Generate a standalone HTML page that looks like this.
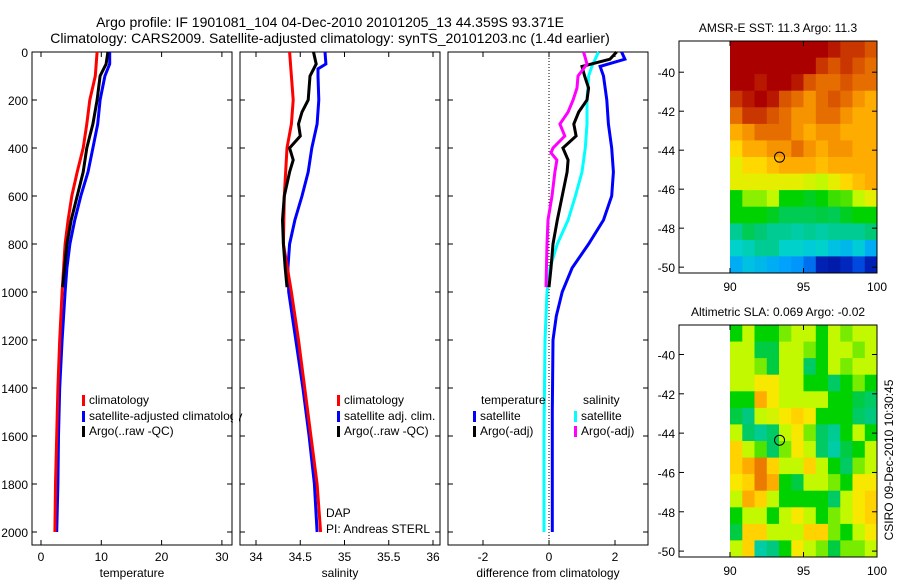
<!DOCTYPE html>
<html><head><meta charset="utf-8"><style>
body{margin:0;background:#fff}
svg{display:block;font-family:"Liberation Sans",sans-serif}
</style></head><body>
<svg id="fig" width="900" height="580" xmlns="http://www.w3.org/2000/svg">
<text x="330" y="27" font-size="14" text-anchor="middle">Argo profile: IF 1901081_104 04-Dec-2010 20101205_13 44.359S 93.371E</text>
<text x="330" y="43" font-size="14" text-anchor="middle">Climatology: CARS2009. Satellite-adjusted climatology: synTS_20101203.nc (1.4d earlier)</text>
<g id="g"></g>
</svg>
<script>
// ---- data ----
const depthTicks=[0,200,400,600,800,1000,1200,1400,1600,1800,2000];
const tTicks=[0,10,20,30], sTicks=[34,34.5,35,35.5,36], dTicks=[-2,0,2];
const latTicks=[-40,-42,-44,-46,-48,-50], lonTicks=[90,95,100];
const tClimD=[0,100,200,300,400,500,600,700,800,1000,1200,1400,1600,1800,2000];
const tClim=[9.3,9.0,8.1,7.6,7.0,6.0,5.1,4.5,4.0,3.5,3.1,2.8,2.6,2.4,2.3];
const tArgoD=[0,50,100,200,300,350,400,500,600,700,800,900,980];
const tArgo=[11.1,10.8,9.8,9.3,8.6,8.1,7.6,7.0,6.0,5.0,4.3,3.9,3.6];
const tSatD=[0,50,100,200,300,400,500,600,700,800,900,1000,1200,1400,1600,1800,2000];
const tSat=[11.4,11.4,10.6,9.8,9.4,8.6,7.8,6.6,5.6,4.8,4.3,4.0,3.5,3.1,2.9,2.8,2.6];
const sClimD=[0,100,200,300,400,600,800,1000,1200,1400,1600,1800,2000];
const sClim=[34.38,34.4,34.42,34.4,34.35,34.32,34.31,34.4,34.48,34.55,34.62,34.69,34.73];
const sArgoD=[0,50,100,200,250,300,350,400,450,500,600,700,800,900,980];
const sArgo=[34.65,34.68,34.61,34.59,34.52,34.48,34.5,34.38,34.42,34.38,34.32,34.3,34.31,34.33,34.35];
const sSatD=[0,50,70,100,200,300,400,500,600,700,800,900,1000,1200,1400,1600,1800,2000];
const sSat=[34.78,34.79,34.7,34.7,34.71,34.69,34.63,34.59,34.52,34.44,34.38,34.36,34.37,34.45,34.53,34.6,34.66,34.69];
const dTSatD=[0,30,60,100,200,300,400,500,600,700,800,900,1000,1100,1200,1500,2000];
const dTSat=[2.2,2.3,1.55,1.65,1.75,1.8,1.9,1.95,1.9,1.65,1.2,0.7,0.4,0.22,0.12,0.1,0.1];
const dSSatD=[0,60,100,200,300,400,500,600,700,800,900,1000,1200,1600,2000];
const dSSat=[1.5,1.3,1.2,1.15,1.15,1.1,1.0,0.8,0.58,0.25,0.03,-0.06,-0.12,-0.15,-0.15];
const dTArgoD=[0,30,60,100,150,200,250,300,350,400,450,500,600,700,800,900,980];
const dTArgo=[2.05,1.85,1.0,1.08,1.2,1.15,0.9,0.75,0.82,0.42,0.58,0.55,0.4,0.25,0.12,0.06,0.0];
const dSArgoD=[0,50,100,150,200,250,300,350,400,420,450,500,600,700,800,980];
const dSArgo=[1.05,1.15,0.88,0.85,0.73,0.58,0.33,0.48,0.12,0.06,0.24,0.18,0.09,-0.03,-0.06,-0.09];
const sst=[
[15.4,15.4,15.4,15.4,15.4,15.4,15.4,15.4,15,14.5,14.5,14],
[15.4,15.4,15.4,15.4,15.4,15.4,15.4,14.5,14,14.5,14,13.6],
[15.4,15.4,15,15.4,15.4,15,14,13.6,13.6,14,13.6,13.6],
[14.5,15,15.4,15,14,13.6,13,13.6,14,13.6,13,12.6],
[13.6,14.5,14.5,14,13.6,13,13,13.6,13.6,13,12.6,12.6],
[12.6,13,13.6,13.6,13.6,13,12.6,13,13,12.6,12.6,12.6],
[11.9,12.6,12.6,13,13,13.6,13,12.6,13,13,12.6,12.6],
[11.4,11.9,11.9,12.3,12.6,12.6,12.6,12.3,12.6,12.6,12.6,12.6],
[11.4,11.4,11.4,11.4,11.4,11.4,11.2,11,11.4,11.9,12.3,12.6],
[10,10.7,10.7,11,10,10,9.8,10,10.3,10.4,11,11.4],
[10,10,10,9.8,9.5,9.5,9.5,9.6,9.5,9.8,10,10],
[9,9.5,9.3,9,9,8.8,9,8.8,9,9,9,9.3],
[8.4,8.6,9,9,8.4,8.4,8.2,8.4,8,7.8,8.2,7.6],
[7.6,8,7.8,7.6,7.4,7.2,6.6,5,4.8,5.2,6,5]];
const sla=[
[0,0.05,0,0,0.03,0.05,0.05,0,0.05,0.03,0.05,0.05],
[0.05,0.05,-0.02,-0.02,0.05,0.05,0.03,0,0.05,0.05,0.03,0.05],
[0.05,0.05,0.03,-0.02,0.05,0.05,-0.03,0,0.05,0.03,0.05,0.05],
[0.05,0.05,0.08,0.08,0.05,0.05,0,0,-0.03,0,0.03,0],
[0,0,0.13,0.08,0.05,0.05,0.05,0.05,0,0,-0.02,-0.03],
[-0.02,-0.04,0.05,0.06,0.08,0.1,0.08,0,0,0,-0.03,-0.04],
[0.05,-0.03,-0.05,-0.03,0.05,0.08,0.03,-0.03,-0.05,0,0.05,0],
[0.1,0.05,0.02,-0.03,0.03,0.08,0.05,-0.03,-0.06,-0.02,0,0.05],
[0.1,0.13,0.17,0.1,0.05,0.05,0.1,0.05,0,-0.03,0.03,0.05],
[0.08,0.1,0.17,0.13,0,-0.02,0.05,0.05,0.03,0,0.08,0.08],
[0.05,0.13,0.1,0.05,0,0,0,0,-0.03,0.05,0.08,0.1],
[0,0.05,0.05,0,0.05,0.08,0.05,0,0.03,0.05,0.08,0.1],
[-0.02,0.1,0.1,0.05,0.05,0.05,0.1,0.1,0.03,0,0.05,0.08],
[0.05,0.1,-0.06,-0.04,0,0.08,0.05,0.03,-0.02,0.03,0.03,0.05]];
const argoPos=[93.371,-44.359];

// ---- drawing ----
const NS="http://www.w3.org/2000/svg", G=document.getElementById('g');
function mk(t,a,p){const e=document.createElementNS(NS,t);for(const k in a)e.setAttribute(k,a[k]);(p||G).appendChild(e);return e;}
function txt(x,y,s,a,sz,anchor){const e=mk('text',Object.assign({x:x,y:y,'font-size':sz||12,'text-anchor':anchor||'middle'},a||{}));e.textContent=s;return e;}
const Y=d=>52+d*0.24;
const panels=[
 {x0:32,x1:232,f:v=>41+6.03*v,ticks:tTicks,title:'temperature',name:'temperature-panel'},
 {x0:240,x1:440,f:v=>256+88.5*(v-34),ticks:sTicks,title:'salinity',name:'salinity-panel'},
 {x0:448,x1:648,f:v=>549+33*v,ticks:dTicks,title:'difference from climatology',name:'difference-panel'}];
panels.forEach((p,i)=>{
 const r=mk('rect',{x:p.x0,y:52,width:p.x1-p.x0,height:493,fill:'none',stroke:'#000'});
 
 
 p.ticks.forEach(t=>{const x=p.f(t);
  mk('line',{x1:x,x2:x,y1:545,y2:540,stroke:'#000'});mk('line',{x1:x,x2:x,y1:52,y2:57,stroke:'#000'});
  const l=txt(x,561,String(t),null,12);
  
  });
 const at=txt((p.x0+p.x1)/2,577,p.title,null,12);
 
 
 depthTicks.forEach(d=>{mk('line',{x1:p.x0,x2:p.x0+5,y1:Y(d),y2:Y(d),stroke:'#000'});mk('line',{x1:p.x1,x2:p.x1-5,y1:Y(d),y2:Y(d),stroke:'#000'});
  if(i==0){const l=txt(28,Y(d)+5,String(d),null,12,'end');
   
   }});
});
const zx=panels[2].f(0);
mk('line',{x1:zx,x2:zx,y1:52,y2:545,stroke:'#000','stroke-dasharray':'1,2'});
function line(p,ds,vs,c,name){
 const pts=ds.map((d,i)=>p.f(vs[i]).toFixed(1)+','+Y(d).toFixed(1)).join(' ');
 const e=mk('polyline',{points:pts,fill:'none',stroke:c,'stroke-width':3});
 
 }
line(panels[0],tSatD,tSat,'#00f','temp-satellite-line');
line(panels[0],tClimD,tClim,'#f00','temp-climatology-line');
line(panels[0],tArgoD,tArgo,'#000','temp-argo-line');
line(panels[1],sSatD,sSat,'#00f','sal-satellite-line');
line(panels[1],sClimD,sClim,'#f00','sal-climatology-line');
line(panels[1],sArgoD,sArgo,'#000','sal-argo-line');
line(panels[2],dTSatD,dTSat,'#00f','diff-temp-satellite-line');
line(panels[2],dSSatD,dSSat,'#0ff','diff-sal-satellite-line');
line(panels[2],dTArgoD,dTArgo,'#000','diff-temp-argo-line');
line(panels[2],dSArgoD,dSArgo,'#f0f','diff-sal-argo-line');
function leg(x,y,c,s){mk('rect',{x:x,y:y-9,width:3,height:11,fill:c});
 const t=txt(x+7,y,s,null,12,'start');
 
 }
leg(82,404,'#f00','climatology');leg(82,420,'#00f','satellite-adjusted climatology');leg(82,435,'#000','Argo(..raw -QC)');
leg(337,404,'#f00','climatology');leg(337,420,'#00f','satellite adj. clim.');leg(337,435,'#000','Argo(..raw -QC)');
txt(481,404,'temperature',null,12,'start');txt(583,404,'salinity',null,12,'start');
leg(473,420,'#00f','satellite');leg(473,435,'#000','Argo(-adj)');
leg(574,420,'#0ff','satellite');leg(574,435,'#f0f','Argo(-adj)');
txt(326,517,'DAP',null,12,'start');txt(326,533,'PI: Andreas STERL',null,12,'start');
mk('rect',{x:233,y:405,width:6,height:20,fill:'#fff'});
// colormap
const cmT=[0,0.15,0.28,0.36,0.44,0.5,0.58,0.64,0.72,0.8,0.88,0.95,1];
const cmC=[[0,0,130],[0,60,220],[0,160,255],[0,210,210],[0,200,120],[0,210,0],[190,250,0],[255,230,0],[255,170,0],[230,110,0],[200,50,0],[170,0,0],[150,0,0]];
function cmap(t){t=Math.max(0,Math.min(1,t));let i=0;while(i<cmT.length-2&&t>cmT[i+1])i++;
 const f=(t-cmT[i])/(cmT[i+1]-cmT[i]);const c=cmC[i].map((v,k)=>Math.round(v+(cmC[i+1][k]-v)*f));
 return 'rgb('+c.join(',')+')';}
function map(top,bot,latTop,grid,norm,title,name){
 const fx=lon=>730+14.7*(lon-90);
 const py=lat=>top+(lat-latTop)/(-50.3-latTop)*(bot-top);
 const rows=grid.length, cols=grid[0].length, cw=(fx(100)-fx(90))/cols, ch=(bot-top)/rows;
 grid.forEach((row,r)=>row.forEach((v,c)=>{
  const w=Math.min(cw+0.6,877-(fx(90)+c*cw));
  const e=mk('rect',{x:(fx(90)+c*cw).toFixed(1),y:(top+r*ch).toFixed(1),width:w.toFixed(1),height:(Math.min(ch+0.6,bot-(top+r*ch))).toFixed(1),fill:cmap(norm(v))});
  
  }));
 const fr=mk('rect',{x:679,y:top,width:198,height:bot-top,fill:'none',stroke:'#000'});
 
 
 latTicks.forEach(l=>{const y=py(l);mk('line',{x1:679,x2:684,y1:y,y2:y,stroke:'#000'});mk('line',{x1:877,x2:872,y1:y,y2:y,stroke:'#000'});
  const t=txt(675,y+5,String(l),null,12,'end');
  
  });
 lonTicks.forEach(l=>{const x=fx(l);mk('line',{x1:x,x2:x,y1:bot,y2:bot-5,stroke:'#000'});mk('line',{x1:x,x2:x,y1:top,y2:top+5,stroke:'#000'});
  const t=txt(x,bot+18,String(l),null,12);
  
  });
 const c=mk('circle',{cx:fx(argoPos[0]),cy:py(argoPos[1]),r:5,fill:'none',stroke:'#000'});
 
 
 const t=txt(778,top-9,title,null,12);
 
 
}
map(41,273,-38.4,sst,v=>(v-4)/12,'AMSR-E SST: 11.3 Argo: 11.3','sst-map');
map(325,557,-38.5,sla,v=>(v+0.3)/0.6,'Altimetric SLA: 0.069 Argo: -0.02','sla-map');
const ct=txt(0,0,'CSIRO 09-Dec-2010 10:30:45',{transform:'translate(893,460) rotate(-90)'},12);


</script>
</body></html>
